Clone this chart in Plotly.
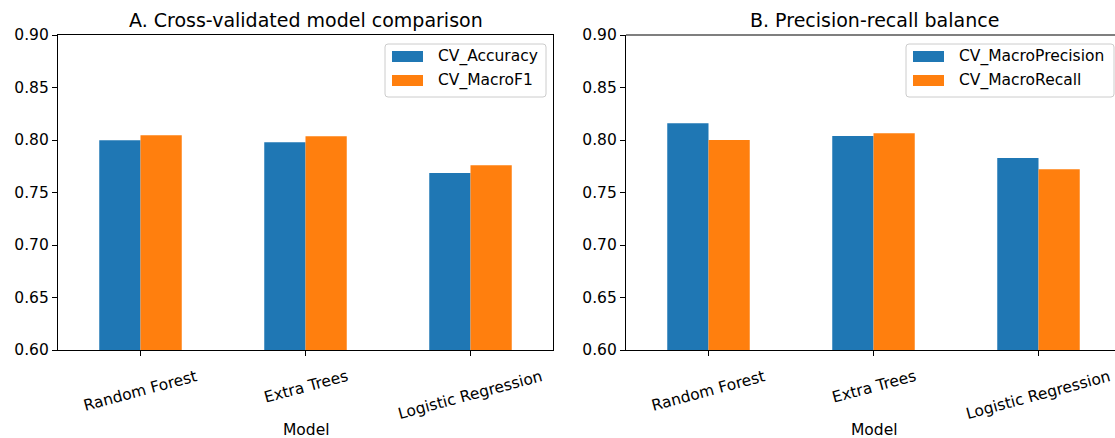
import plotly.graph_objects as go

models = ["Random Forest", "Extra Trees", "Logistic Regression"]
cv_accuracy = [0.7997, 0.7978, 0.7686]
cv_macro_f1 = [0.8045, 0.8035, 0.7759]
cv_macro_precision = [0.8159, 0.8038, 0.7829]
cv_macro_recall = [0.8000, 0.8064, 0.7721]
y_ticks = [0.60, 0.65, 0.70, 0.75, 0.80, 0.85, 0.90]

BLUE = "#1f77b4"
ORANGE = "#ff7f0e"
FONT = "DejaVu Sans"
W, H = 1115, 438
TICK_SIZE = 15.5
TITLE_SIZE = 19


def px_x(p):
    return p / W


def px_y(p):
    return 1 - p / H


fig = go.Figure()
fig.add_trace(go.Bar(x=models, y=cv_accuracy, name="CV_Accuracy", marker_color=BLUE,
                     marker_line_width=0, xaxis="x", yaxis="y"))
fig.add_trace(go.Bar(x=models, y=cv_macro_f1, name="CV_MacroF1", marker_color=ORANGE,
                     marker_line_width=0, xaxis="x", yaxis="y"))
fig.add_trace(go.Bar(x=models, y=cv_macro_precision, name="CV_MacroPrecision", marker_color=BLUE,
                     marker_line_width=0, xaxis="x2", yaxis="y2"))
fig.add_trace(go.Bar(x=models, y=cv_macro_recall, name="CV_MacroRecall", marker_color=ORANGE,
                     marker_line_width=0, xaxis="x2", yaxis="y2"))

tickfont = dict(family=FONT, size=TICK_SIZE, color="black")
ydom = [px_y(350), px_y(35)]

common_x = dict(type="category", showgrid=False, zeroline=False, showline=True, linecolor="black",
                linewidth=1.2, ticks="outside", ticklen=5, tickcolor="black", tickwidth=1.2,
                showticklabels=False, automargin=False)
common_y = dict(range=[0.60, 0.90], tickvals=y_ticks, tickformat=".2f", showgrid=False, zeroline=False,
                showline=True, linecolor="black", linewidth=1.2, ticks="outside", ticklen=5,
                tickcolor="black", tickwidth=1.2, tickfont=tickfont, automargin=False)

fig.update_layout(
    width=W, height=H,
    margin=dict(l=0, r=0, t=0, b=0),
    paper_bgcolor="white", plot_bgcolor="white",
    barmode="group", bargap=0.5, bargroupgap=0,
    xaxis=dict(domain=[px_x(58), px_x(553)], range=[-0.5, 2.5], mirror=True, anchor="y", **common_x),
    yaxis=dict(domain=ydom, anchor="x", mirror=True, **common_y),
    xaxis2=dict(domain=[px_x(626), 1.0], range=[-0.5, 2.5 - 6 / 165], anchor="y2", **common_x),
    yaxis2=dict(domain=ydom, anchor="x2", **common_y),
    showlegend=False,
    font=dict(family=FONT, color="black"),
)

# top spine for panel B (its right spine is cut off by the figure edge)
fig.add_shape(type="line", xref="paper", yref="paper", x0=px_x(626), x1=1.0, y0=px_y(35), y1=px_y(35),
              line=dict(color="black", width=1.2))


def rounded_rect(x0, y0, x1, y1, r=3):
    pts = [
        f"M {px_x(x0 + r)},{px_y(y0)}", f"L {px_x(x1 - r)},{px_y(y0)}",
        f"Q {px_x(x1)},{px_y(y0)} {px_x(x1)},{px_y(y0 + r)}", f"L {px_x(x1)},{px_y(y1 - r)}",
        f"Q {px_x(x1)},{px_y(y1)} {px_x(x1 - r)},{px_y(y1)}", f"L {px_x(x0 + r)},{px_y(y1)}",
        f"Q {px_x(x0)},{px_y(y1)} {px_x(x0)},{px_y(y1 - r)}", f"L {px_x(x0)},{px_y(y0 + r)}",
        f"Q {px_x(x0)},{px_y(y0)} {px_x(x0 + r)},{px_y(y0)}", "Z",
    ]
    return " ".join(pts)


# matplotlib-style legends (box, colour patches, labels)
legends = [
    (385, 546, [("CV_Accuracy", BLUE), ("CV_MacroF1", ORANGE)]),
    (906, 1114, [("CV_MacroPrecision", BLUE), ("CV_MacroRecall", ORANGE)]),
]
for lx0, lx1, entries in legends:
    fig.add_shape(type="path", xref="paper", yref="paper", path=rounded_rect(lx0, 44, lx1, 97),
                  fillcolor="rgba(255,255,255,0.8)", line=dict(color="#cccccc", width=1))
    for i, (label, color) in enumerate(entries):
        yc = 56.5 + 24 * i
        fig.add_shape(type="rect", xref="paper", yref="paper",
                      x0=px_x(lx0 + 7), x1=px_x(lx0 + 38), y0=px_y(yc - 5.5), y1=px_y(yc + 5.5),
                      fillcolor=color, line=dict(width=0))
        fig.add_annotation(text=label, xref="paper", yref="paper", x=px_x(lx0 + 51), y=px_y(yc),
                           xanchor="left", yanchor="middle", showarrow=False,
                           font=dict(family=FONT, size=TICK_SIZE, color="black"))

# rotated category labels, centred under each tick like matplotlib
for xref in ("x", "x2"):
    for m in models:
        fig.add_annotation(text=m, xref=xref, yref="paper", x=m, y=px_y(365), textangle=-15,
                           xanchor="center", yanchor="top", showarrow=False,
                           font=dict(family=FONT, size=TICK_SIZE, color="black"))

for text, xc in (("A. Cross-validated model comparison", 306), ("B. Precision-recall balance", 874)):
    fig.add_annotation(text=text, xref="paper", yref="paper", x=px_x(xc), y=px_y(20),
                       xanchor="center", yanchor="middle", showarrow=False,
                       font=dict(family=FONT, size=TITLE_SIZE, color="black"))
for xc in (306, 874):
    fig.add_annotation(text="Model", xref="paper", yref="paper", x=px_x(xc), y=px_y(430),
                       xanchor="center", yanchor="middle", showarrow=False,
                       font=dict(family=FONT, size=TICK_SIZE, color="black"))

fig.write_html(
    "out.html",
    config={"displayModeBar": False},
    post_script="document.body.style.margin='0';document.body.style.overflow='hidden';",
)
